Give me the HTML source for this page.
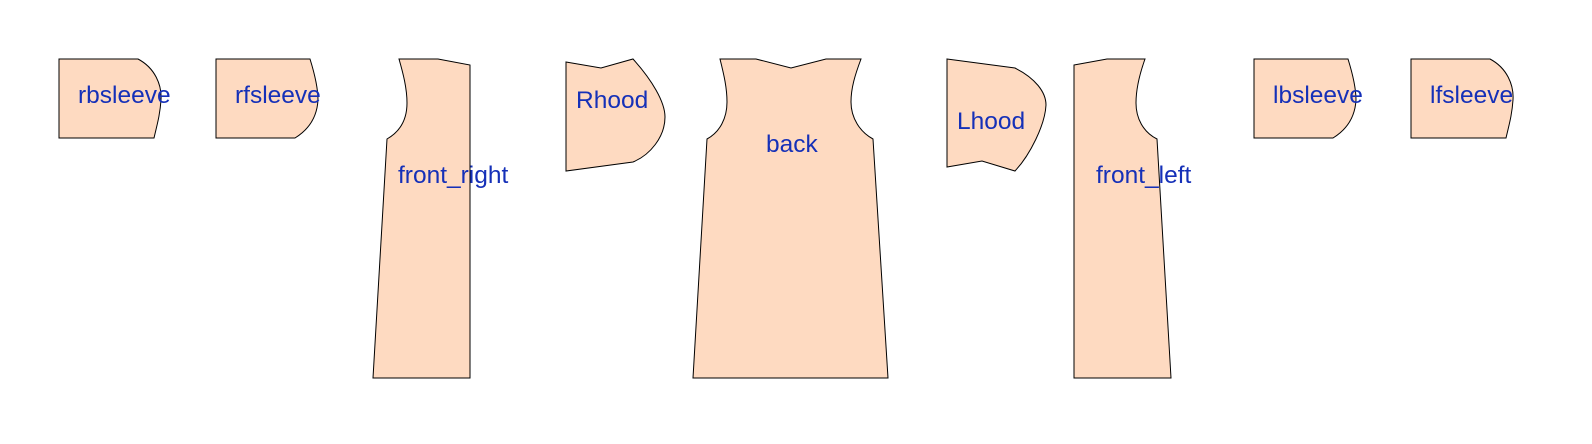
<!DOCTYPE html>
<html><head><meta charset="utf-8"><style>
html,body{margin:0;padding:0;background:#fff;}
svg{display:block;}
text{font-family:"Liberation Sans",Arial,sans-serif;font-size:24.5px;fill:#1530b8;}
path{fill:#fedac1;stroke:#000;stroke-width:1;}
</style></head><body>
<svg width="1592" height="444" viewBox="0 0 1592 444">
<g>
<path d="M59,59 H138 C155,68 162,85 161,100 C160,115 157,125 154,138 H59 Z"/>
<text x="78" y="103">rbsleeve</text></g>
<g>
<path d="M216,59 H310 C315,75 318,90 318,100 C317,118 308,130 295,138 H216 Z"/>
<text x="235" y="103">rfsleeve</text></g>
<g>
<path d="M399,59 H438 L470,65 V378 H373 L387,139 C401,131 407,118 407,103 C407,88 403,73 399,59 Z"/>
<text x="398" y="183">front_right</text></g>
<g>
<path d="M566,62 L601,68 L633,59 C652,80 665,102 665,117 C665,137 650,155 633,162 L566,171 Z"/>
<text x="576" y="108">Rhood</text></g>
<g>
<path d="M720,59 H756 L791,68 L826,59 H861 C855,75 851,88 851,102 C851,118 860,132 873,139 L888,378 H693 L707,139 C720,132 727,118 727,102 C727,88 724,75 720,59 Z"/>
<text x="766" y="152">back</text></g>
<g>
<path d="M947,59 L1015,68 C1035,78 1046,92 1046,105 C1045,125 1030,155 1015,171 L982,161 L947,167 Z"/>
<text x="957" y="129">Lhood</text></g>
<g>
<path d="M1074,65 L1107,59 H1145 C1140,73 1136,88 1136,103 C1136,118 1143,132 1157,139 L1171,378 H1074 Z"/>
<text x="1096" y="183">front_left</text></g>
<g>
<path d="M1254,59 H1348 C1353,75 1356,90 1356,100 C1355,118 1346,130 1333,138 H1254 Z"/>
<text x="1273" y="103">lbsleeve</text></g>
<g>
<path d="M1411,59 H1490 C1507,68 1514,85 1513,100 C1512,115 1509,125 1506,138 H1411 Z"/>
<text x="1430" y="103">lfsleeve</text></g>
</svg>
</body></html>
